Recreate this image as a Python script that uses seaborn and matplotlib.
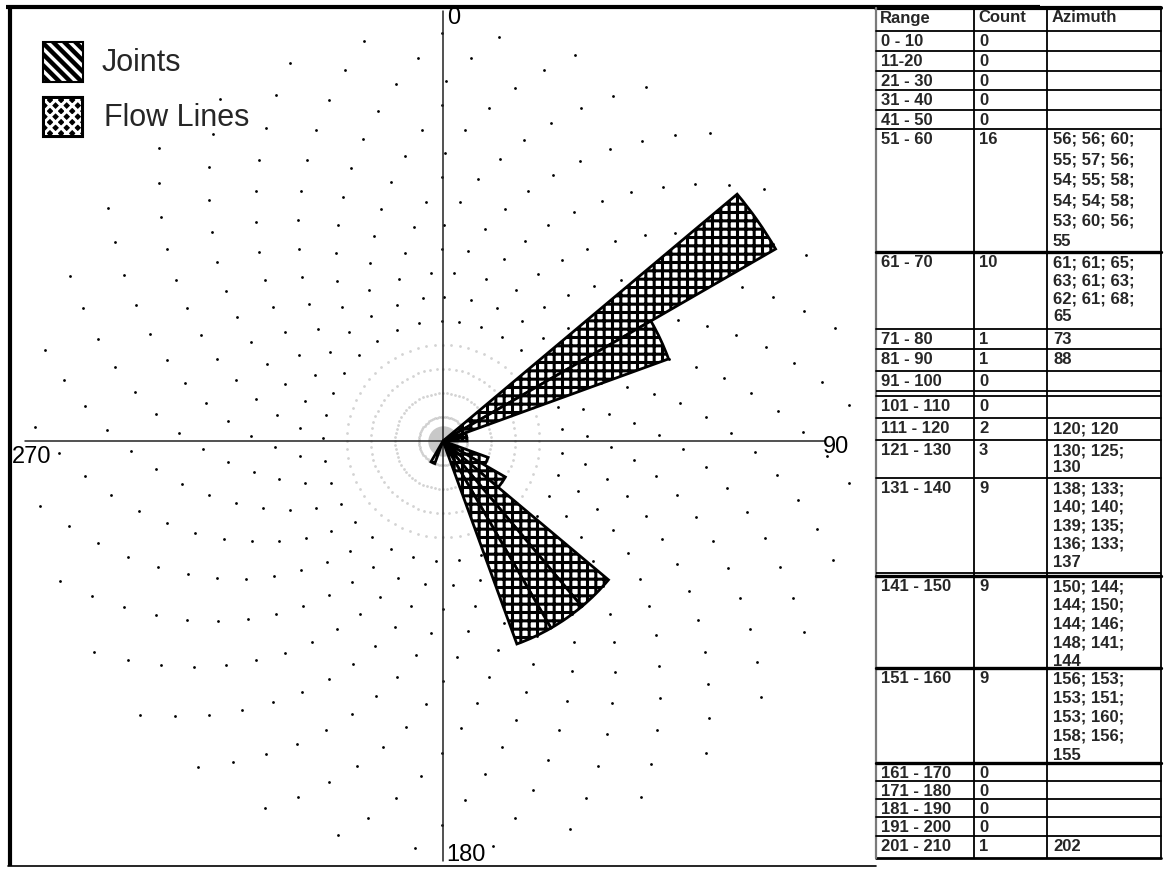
import numpy as np
import pandas as pd
import matplotlib
matplotlib.use("Agg")
import matplotlib.pyplot as plt
import seaborn as sns
from matplotlib.patches import Rectangle

sns.set_style("white")
plt.rcParams["font.family"] = ["Liberation Sans", "DejaVu Sans"]
plt.rcParams["hatch.linewidth"] = 2.2

# ---- data -------------------------------------------------------------
range_labels = ["0 - 10", "11-20", "21 - 30", "31 - 40", "41 - 50", "51 - 60",
                "61 - 70", "71 - 80", "81 - 90", "91 - 100", "101 - 110",
                "111 - 120", "121 - 130", "131 - 140", "141 - 150", "151 - 160",
                "161 - 170", "171 - 180", "181 - 190", "191 - 200", "201 - 210"]
counts = [0, 0, 0, 0, 0, 16, 10, 1, 1, 0, 0, 2, 3, 9, 9, 9, 0, 0, 0, 0, 1]
azimuths = [
    [], [], [], [], [],
    [56, 56, 60, 55, 57, 56, 54, 55, 58, 54, 54, 58, 53, 60, 56, 55],
    [61, 61, 65, 63, 61, 63, 62, 61, 68, 65],
    [73],
    [88],
    [], [],
    [120, 120],
    [130, 125, 130],
    [138, 133, 140, 140, 139, 135, 136, 133, 137],
    [150, 144, 144, 150, 144, 146, 148, 141, 144],
    [156, 153, 153, 151, 153, 160, 158, 156, 155],
    [], [], [], [],
    [202],
]
header = ["Range", "Count", "Azimuth"]
legend_labels = ["Joints", "Flow Lines"]
compass_labels = ["0", "90", "180", "270"]

# ---- figure geometry (pixels) ------------------------------------------
W, H = 1164, 871
fig = plt.figure(figsize=(W / 100, H / 100), dpi=100)
cx, cy = 443, 441          # centre of the rose
px_per_count = 24
rmax = 17.5
R = rmax * px_per_count

ax = fig.add_axes([(cx - R) / W, (H - cy - R) / H, 2 * R / W, 2 * R / H],
                  projection="polar")
ax.set_theta_zero_location("N")
ax.set_theta_direction(-1)
ax.grid(False)
ax.spines["polar"].set_visible(False)
ax.patch.set_alpha(0)

# dotted concentric grid
rows = []
for r in range(1, 18):
    if r <= 4:
        angles = np.arange(0, 360, 5)
        zone = "inner"
    else:
        angles = np.arange(0, 360, 11) + (r * 3.7) % 11
        zone = "outer"
    for a in angles:
        rows.append((np.deg2rad(a), r, zone))
grid = pd.DataFrame(rows, columns=["theta", "r", "zone"])
sns.scatterplot(data=grid[grid.zone == "outer"], x="theta", y="r", ax=ax,
                s=4, color="black", linewidth=0, legend=False, zorder=1)
sns.scatterplot(data=grid[grid.zone == "inner"], x="theta", y="r", ax=ax,
                s=4, color="#a8a8a8", alpha=0.5, linewidth=0, legend=False,
                zorder=1)
ax.scatter([0], [0], s=480, color="#9c9c9c", alpha=0.55, linewidth=0, zorder=1)

# compass cross
for ang, length in [(0, 17.9), (90, 15.9), (180, 17.5), (270, 17.4)]:
    ax.plot([np.deg2rad(ang)] * 2, [0, length], color="#222222", lw=1.1,
            clip_on=False, zorder=2)

# rose petals, one 10-degree sector per range
bin_starts = np.array([(int(lbl.split("-")[0]) // 10) * 10 for lbl in range_labels])
cnt = np.array(counts)
mask = cnt > 0
ax.bar(np.deg2rad(bin_starts[mask] + 5), cnt[mask], width=np.deg2rad(10),
       bottom=0, facecolor="white", edgecolor="black", linewidth=2,
       hatch="++", zorder=3)
ax.set_ylim(0, rmax)
ax.set_xticks([])
ax.set_yticks([])
ax.set_xlabel("")
ax.set_ylabel("")

# ---- overlay in pixel coordinates --------------------------------------
ov = fig.add_axes([0, 0, 1, 1])
ov.set_xlim(0, W)
ov.set_ylim(H, 0)
ov.axis("off")
ov.patch.set_alpha(0)

# panel frame
ov.plot([6, 1040], [7, 7], color="black", lw=3, solid_capstyle="butt")
ov.plot([10, 10], [6, 866], color="black", lw=3, solid_capstyle="butt")
ov.plot([8, 876], [866, 866], color="black", lw=1.2)

# compass labels
lab_kw = dict(fontsize=17, color="black", va="center")
ov.text(447, 18, compass_labels[0], ha="left", **lab_kw)
ov.text(823, 447, compass_labels[1], ha="left", **lab_kw)
ov.text(446, 855, compass_labels[2], ha="left", **lab_kw)
ov.text(12, 457, compass_labels[3], ha="left", **lab_kw)

# legend
sw = Rectangle((43, 42), 40, 40, facecolor="white", edgecolor="black",
               linewidth=1.5, hatch="\\\\\\")
if hasattr(sw, "set_hatch_linewidth"):
    sw.set_hatch_linewidth(3.2)
ov.add_patch(sw)
ov.add_patch(Rectangle((43, 97), 40, 40, facecolor="black", edgecolor="none"))
ov.add_patch(Rectangle((45, 99), 36, 36, facecolor="none", edgecolor="white",
                       linewidth=0, hatch="xxx"))
ov.add_patch(Rectangle((43, 97), 40, 40, facecolor="none", edgecolor="black",
                       linewidth=1.5))
ov.text(102, 63, legend_labels[0], fontsize=22, va="center", ha="left")
ov.text(104, 118, legend_labels[1], fontsize=22, va="center", ha="left")

# ---- table ---------------------------------------------------------------
col_x = [876, 974, 1047, 1161]
text_x = [881, 979, 1053]
row_tops = [31, 51, 71, 90, 110, 129, 252, 329, 349, 371, 396, 418, 440, 478,
            576, 668, 763, 781, 799, 817, 836]
line_gap = [19, 19, 19, 19, 19, 20.4, 18, 19, 19, 19, 19, 19, 17, 18.5,
            18.8, 19.2, 19, 19, 19, 19, 19]
table_top, table_bottom = 8, 858
thick_rows = {6, 14, 15, 16}

line_kw = dict(color="black", lw=1.3, solid_capstyle="butt")
ov.plot([col_x[0], col_x[-1]], [table_top, table_top], color="black", lw=3)
ov.plot([col_x[0], col_x[-1]], [table_bottom, table_bottom], color="black", lw=2)
ov.plot([col_x[0]] * 2, [table_top, table_bottom], color="#7a7a7a", lw=1.6)
for x in col_x[1:]:
    ov.plot([x, x], [table_top, table_bottom], **line_kw)
for i, y in enumerate(row_tops):
    ov.plot([col_x[0], col_x[-1]], [y, y], color="black",
            lw=2.4 if i in thick_rows else 1.3)
# double rules
ov.plot([col_x[0], col_x[-1]], [391, 391], **line_kw)
ov.plot([col_x[0], col_x[-1]], [573, 573], **line_kw)

txt_kw = dict(fontsize=12, fontweight="bold", va="center", ha="left")
for j, h in enumerate(header):
    ov.text(text_x[j] - 1, 18, h, **txt_kw)


def azimuth_lines(vals):
    strs = [str(v) for v in vals]
    per_line = 3 if max(vals) < 100 else 2
    out = []
    for k in range(0, len(strs), per_line):
        chunk = "; ".join(strs[k:k + per_line])
        if k + per_line < len(strs):
            chunk += ";"
        out.append(chunk)
    return out


for i, lbl in enumerate(range_labels):
    y0 = row_tops[i] + 10.5
    ov.text(text_x[0], y0, lbl, **txt_kw)
    ov.text(text_x[1], y0, str(counts[i]), **txt_kw)
    if azimuths[i]:
        for k, line in enumerate(azimuth_lines(azimuths[i])):
            ov.text(text_x[2], y0 + k * line_gap[i], line, **txt_kw)

fig.savefig("out.png", dpi=100)
